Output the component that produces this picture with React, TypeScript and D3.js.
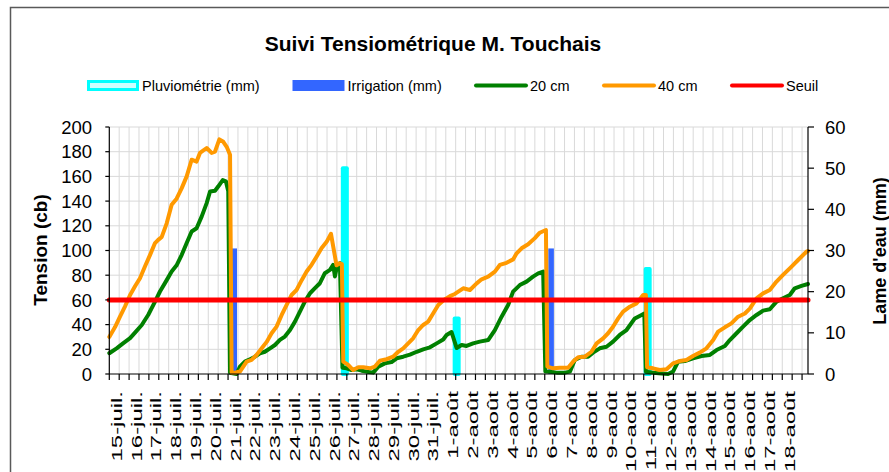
import * as d3 from 'd3';
import React, { useEffect, useRef } from 'react';

const WIDTH = 889;
const HEIGHT = 472;
const FONT = '"Liberation Sans", Arial, sans-serif';

// étiquettes de l'axe des dates (une par jour, graduation toutes les 12 h)
const jours = [
  '15-juil.', '16-juil.', '17-juil.', '18-juil.', '19-juil.', '20-juil.', '21-juil.',
  '22-juil.', '23-juil.', '24-juil.', '25-juil.', '26-juil.', '27-juil.', '28-juil.',
  '29-juil.', '30-juil.', '31-juil.', '1-août', '2-août', '3-août', '4-août', '5-août',
  '6-août', '7-août', '8-août', '9-août', '10-août', '11-août', '12-août', '13-août',
  '14-août', '15-août', '16-août', '17-août', '18-août'
];
const finPeriode = 35.3; // jours depuis le 15 juillet 0h

// tensiomètre 20 cm : temps (jours depuis le 15/07) et tension (cb)
const temps20 = [
  0, 0.37, 0.71, 1.05, 1.3, 1.64, 1.97, 2.31, 2.56, 2.9,
  3.15, 3.4, 3.66, 3.91, 4.16, 4.41, 4.67, 4.92, 5.09, 5.34,
  5.51, 5.73, 5.89, 6.01, 6.1, 6.43, 6.6, 6.85, 7.11, 7.36,
  7.61, 7.86, 8.12, 8.37, 8.62, 8.87, 9.13, 9.38, 9.63, 9.88,
  10.14, 10.39, 10.64, 10.89, 11.15, 11.31, 11.4, 11.52, 11.65, 11.78,
  11.99, 12.24, 12.49, 12.75, 13.0, 13.33, 13.59, 13.92, 14.26, 14.52,
  14.85, 15.19, 15.53, 15.86, 16.2, 16.54, 16.87, 17.04, 17.29, 17.55,
  17.8, 18.05, 18.38, 18.72, 19.14, 19.48, 19.82, 20.15, 20.4, 20.74,
  21.08, 21.41, 21.67, 21.92, 22.03, 22.26, 22.6, 23.02, 23.27, 23.52,
  23.86, 24.19, 24.44, 24.78, 25.12, 25.45, 25.79, 26.13, 26.55, 26.89,
  27.03, 27.11, 27.47, 27.9, 28.23, 28.48, 28.74, 29.08, 29.49, 29.92,
  30.34, 30.68, 31.1, 31.35, 31.69, 32.02, 32.36, 32.7, 33.03, 33.37,
  33.71, 34.04, 34.38, 34.63, 34.97, 35.3
];
const tension20 = [
  16.8, 20.8, 25, 29, 33.5, 39.7, 48, 58.6, 66.8, 76,
  83, 88, 96.5, 106, 115.4, 118, 127.6, 138.4, 147.8, 148.4,
  152, 157, 156, 148, 1, 0, 6, 10, 12, 14,
  16.8, 18, 20.8, 23.5, 27.6, 30.3, 35.7, 42.4, 50.5, 58.6,
  65.4, 69.5, 73.5, 81.6, 84.3, 88.4, 79, 88.4, 89.7, 5,
  4.6, 3.2, 3.8, 2.7, 1.9, 1.1, 6, 8.6, 9.7, 12.7,
  14, 15.7, 18, 20, 21.6, 24.8, 28, 31.6, 34, 21,
  23.5, 22.7, 24.8, 26.2, 27.5, 35.6, 46.4, 55.9, 66.7, 72,
  74.8, 78.8, 81.5, 82.9, 2, 1.9, 1.1, 1.1, 1.9, 11.3,
  14, 14, 17.3, 20.8, 22.1, 26.2, 31.6, 35.6, 45, 47.8,
  49, 1.9, 1.1, 0.5, 0, 1.9, 10, 10.5, 12.7, 14.6,
  15.4, 19.4, 22.7, 27.5, 33, 38.3, 43.7, 47.8, 51.3, 52.4,
  58.6, 61.3, 64, 69.4, 71.3, 72.9
];

// tensiomètre 40 cm
const temps40 = [
  0, 0.29, 0.54, 0.79, 1.05, 1.3, 1.55, 1.8, 2.06, 2.31,
  2.47, 2.65, 2.9, 3.15, 3.4, 3.66, 3.91, 4.16, 4.41, 4.58,
  4.92, 5.17, 5.34, 5.56, 5.76, 5.93, 6.1, 6.18, 6.35, 6.6,
  6.77, 6.94, 7.19, 7.44, 7.7, 7.95, 8.2, 8.45, 8.71, 8.96,
  9.21, 9.46, 9.72, 9.97, 10.22, 10.47, 10.73, 10.98, 11.2, 11.48,
  11.65, 11.75, 11.82, 12.07, 12.32, 12.58, 12.83, 13.17, 13.42, 13.67,
  14.01, 14.34, 14.6, 14.85, 15.1, 15.35, 15.61, 15.86, 16.11, 16.36,
  16.62, 16.9, 17.21, 17.46, 17.88, 18.22, 18.56, 18.81, 19.14, 19.48,
  19.73, 20.07, 20.4, 20.58, 20.83, 21.16, 21.5, 21.75, 22.06, 22.13,
  22.42, 22.76, 23.18, 23.43, 23.69, 24.03, 24.36, 24.62, 24.95, 25.2,
  25.45, 25.71, 25.96, 26.3, 26.64, 26.97, 27.11, 27.17, 27.47, 27.81,
  28.15, 28.48, 28.82, 29.16, 29.49, 29.83, 30.17, 30.51, 30.76, 31.1,
  31.43, 31.77, 32.11, 32.36, 32.7, 33.03, 33.37, 33.71, 34.04, 34.47,
  34.8, 35.22, 35.3
];
const tension40 = [
  30, 38, 46.5, 54.6, 64, 71, 77.6, 87, 96.5, 106,
  108.6, 111, 122, 137, 142, 150.5, 160, 173.5, 172, 179,
  183, 179, 180, 190, 188, 184, 177.6, 1, 1, 2,
  6, 10, 11.4, 15.4, 20.8, 26, 33, 38.4, 47.8, 56,
  64, 68, 76, 83, 88.4, 95, 102, 107, 113.5, 88,
  89.7, 89, 10, 7.3, 3.2, 5.4, 5.4, 4.6, 6, 10.8,
  12, 14, 18, 20.8, 24.8, 28.9, 35.6, 39.7, 42.4, 49,
  55.9, 60, 63, 64.8, 69.4, 68, 73.4, 76.7, 78.8, 82.9,
  88.3, 90, 92.8, 97.7, 101.8, 105, 110, 114.4, 116.6, 6,
  4.6, 5, 5, 10, 13.5, 14, 18, 24.8, 28.9, 33,
  38.3, 45, 50.5, 54.5, 57.2, 64, 64, 5.4, 4.6, 3.2,
  3.8, 8.6, 10.5, 11.3, 14.6, 17.3, 20.8, 27.5, 34.3, 37.8,
  41, 46.4, 49, 53, 61.3, 65.3, 68, 74.8, 80.2, 87,
  92.3, 99, 99.5
];

// apports d'eau (mm)
const pluieJours = [11.9, 17.55, 27.2];
const pluieMm = [50, 13.5, 25.5];
const irrigJours = [6.31, 22.32];
const irrigMm = [30.5, 30.5];

const seuil = 60;
const ticksTension = [0, 20, 40, 60, 80, 100, 120, 140, 160, 180, 200];
const ticksLame = [0, 10, 20, 30, 40, 50, 60];

export default function App() {
  const ref = useRef<SVGSVGElement>(null);

  useEffect(() => {
    let svg = d3.select(ref.current);
    svg.selectAll('*').remove();

    let plot = { left: 109.3, right: 808, top: 127, bottom: 374 };

    let x = d3.scaleLinear().domain([0, finPeriode]).range([plot.left, plot.right]);
    let yTension = d3.scaleLinear().domain([0, 200]).range([plot.bottom, plot.top]);
    let yLame = d3.scaleLinear().domain([0, 60]).range([plot.bottom, plot.top]);
    let halfDays = d3.range(0, jours.length * 2 + 1).map((d) => d / 2);

    svg.append('rect').attr('width', WIDTH).attr('height', HEIGHT).attr('fill', '#fff');

    // cadre du graphique
    svg.append('rect')
      .attr('x', 10.5).attr('y', 7.5)
      .attr('width', 900).attr('height', 500)
      .attr('fill', 'none').attr('stroke', '#595959').attr('stroke-width', 1.5);

    // titre
    svg.append('text')
      .attr('x', 433).attr('y', 51)
      .attr('text-anchor', 'middle')
      .attr('font-family', FONT).attr('font-size', 21).attr('font-weight', 'bold')
      .text('Suivi Tensiométrique M. Touchais');

    // grille
    let grid = svg.append('g').attr('stroke', '#d9d9d9').attr('stroke-width', 1);
    grid.selectAll('line.h')
      .data(ticksTension.filter((d) => d > 0))
      .enter().append('line')
      .attr('x1', plot.left).attr('x2', plot.right)
      .attr('y1', (d) => yTension(d)).attr('y2', (d) => yTension(d));
    grid.selectAll('line.v')
      .data(halfDays.filter((d) => d > 0))
      .enter().append('line')
      .attr('x1', (d) => x(d)).attr('x2', (d) => x(d))
      .attr('y1', plot.top).attr('y2', plot.bottom);

    // barres : pluviométrie et irrigation (axe secondaire)
    svg.append('g').selectAll('rect')
      .data(pluieJours)
      .enter().append('rect')
      .attr('x', (d) => x(d) - 2)
      .attr('width', 4)
      .attr('y', (d, i) => yLame(pluieMm[i]))
      .attr('height', (d, i) => yLame(0) - yLame(pluieMm[i]))
      .attr('fill', '#00ffff')
      .attr('stroke', '#00ffff').attr('stroke-width', 4).attr('stroke-linejoin', 'round');

    svg.append('g').selectAll('rect')
      .data(irrigJours)
      .enter().append('rect')
      .attr('x', (d) => x(d) - 2.8)
      .attr('width', 5.6)
      .attr('y', (d, i) => yLame(irrigMm[i]))
      .attr('height', (d, i) => yLame(0) - yLame(irrigMm[i]))
      .attr('fill', '#3366ff');

    // courbes tensiométriques
    let drawSerie = (temps: number[], valeurs: number[], color: string) => {
      let line = d3.line<number>()
        .x((d) => x(d))
        .y((d, i) => yTension(valeurs[i]));
      svg.append('path')
        .attr('d', line(temps))
        .attr('fill', 'none')
        .attr('stroke', color)
        .attr('stroke-width', 4)
        .attr('stroke-linejoin', 'round')
        .attr('stroke-linecap', 'round');
    };
    drawSerie(temps20, tension20, '#008000');
    drawSerie(temps40, tension40, '#ff9900');

    // seuil
    svg.append('line')
      .attr('x1', x(0)).attr('x2', x(finPeriode))
      .attr('y1', yTension(seuil)).attr('y2', yTension(seuil))
      .attr('stroke', '#ff0000').attr('stroke-width', 5).attr('stroke-linecap', 'round');

    // axes
    let axes = svg.append('g').attr('stroke', '#000').attr('stroke-width', 1.2);
    axes.append('line')
      .attr('x1', plot.left).attr('x2', plot.left)
      .attr('y1', plot.top).attr('y2', plot.bottom);
    axes.append('line')
      .attr('x1', plot.right).attr('x2', plot.right)
      .attr('y1', plot.top).attr('y2', plot.bottom);
    axes.append('line')
      .attr('x1', plot.left).attr('x2', plot.right)
      .attr('y1', plot.bottom).attr('y2', plot.bottom);

    axes.selectAll('line.tl')
      .data(ticksTension)
      .enter().append('line')
      .attr('x1', plot.left - 4).attr('x2', plot.left)
      .attr('y1', (d) => yTension(d)).attr('y2', (d) => yTension(d));
    axes.selectAll('line.tr')
      .data(ticksLame)
      .enter().append('line')
      .attr('x1', plot.right).attr('x2', plot.right + 6)
      .attr('y1', (d) => yLame(d)).attr('y2', (d) => yLame(d));
    axes.selectAll('line.tx')
      .data(halfDays)
      .enter().append('line')
      .attr('x1', (d) => x(d)).attr('x2', (d) => x(d))
      .attr('y1', plot.bottom).attr('y2', plot.bottom + 6);

    svg.append('g').selectAll('text')
      .data(ticksTension)
      .enter().append('text')
      .attr('x', 92).attr('y', (d) => yTension(d))
      .attr('dy', '0.36em')
      .attr('text-anchor', 'end')
      .attr('font-family', FONT).attr('font-size', 18.5)
      .text((d) => d);

    svg.append('g').selectAll('text')
      .data(ticksLame)
      .enter().append('text')
      .attr('x', 825).attr('y', (d) => yLame(d))
      .attr('dy', '0.36em')
      .attr('font-family', FONT).attr('font-size', 18.5)
      .text((d) => d);

    svg.append('g').selectAll('text')
      .data(jours)
      .enter().append('text')
      .attr('transform', (d, i) => 'translate(' + (x(i) + 12.5) + ',391) rotate(-90) scale(1.65,1)')
      .attr('text-anchor', 'end')
      .attr('font-family', FONT).attr('font-size', 14.5)
      .text((d) => d);

    svg.append('text')
      .attr('transform', 'translate(47,250) rotate(-90)')
      .attr('text-anchor', 'middle')
      .attr('font-family', FONT).attr('font-size', 19).attr('font-weight', 'bold')
      .text('Tension (cb)');

    svg.append('text')
      .attr('transform', 'translate(886,251) rotate(-90)')
      .attr('text-anchor', 'middle')
      .attr('font-family', FONT).attr('font-size', 18).attr('font-weight', 'bold')
      .text("Lame d'eau (mm)");

    // légende
    let legend = [
      { name: 'Pluviométrie (mm)', type: 'pluie', color: '#00ffff', x: 87 },
      { name: 'Irrigation (mm)', type: 'bar', color: '#3366ff', x: 292.5 },
      { name: '20 cm', type: 'line', color: '#008000', x: 475 },
      { name: '40 cm', type: 'line', color: '#ff9900', x: 603 },
      { name: 'Seuil', type: 'line', color: '#ff0000', x: 731 }
    ];
    let items = svg.append('g').selectAll('g')
      .data(legend)
      .enter().append('g')
      .attr('transform', (d) => 'translate(' + d.x + ',0)');
    items.filter((d) => d.type === 'pluie').append('rect')
      .attr('x', 1.5).attr('y', 81.5).attr('width', 49).attr('height', 8)
      .attr('fill', '#ccffff').attr('stroke', '#00ffff').attr('stroke-width', 3);
    items.filter((d) => d.type === 'bar').append('rect')
      .attr('x', 0).attr('y', 80).attr('width', 52).attr('height', 11)
      .attr('fill', (d) => d.color);
    items.filter((d) => d.type === 'line').append('line')
      .attr('x1', 1).attr('x2', 51).attr('y1', 85.5).attr('y2', 85.5)
      .attr('stroke', (d) => d.color).attr('stroke-width', 4).attr('stroke-linecap', 'round');
    items.append('text')
      .attr('x', 55).attr('y', 90.5)
      .attr('font-family', FONT).attr('font-size', 14.5)
      .text((d) => d.name);
  }, []);

  return (
    <svg
      ref={ref}
      width={WIDTH}
      height={HEIGHT}
      style={{ position: 'absolute', left: 0, top: 0, display: 'block' }}
    />
  );
}
